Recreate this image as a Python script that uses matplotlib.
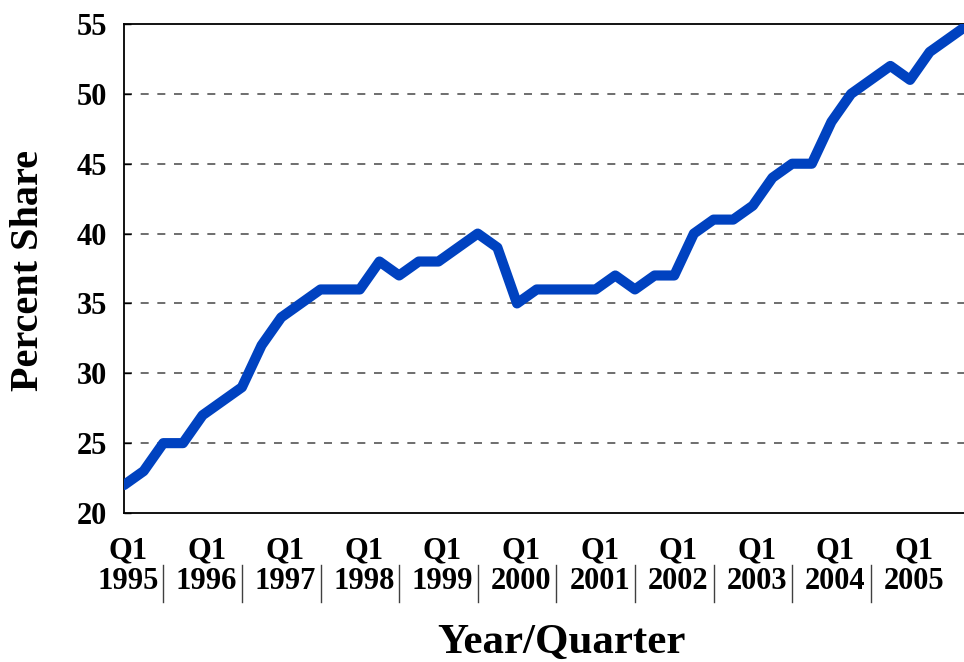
import matplotlib
matplotlib.use('Agg')
import matplotlib.pyplot as plt
import matplotlib.transforms as mtransforms


# percent share, one value per quarter, Q1 1995 onwards
share = [22, 23, 25, 25, 27, 28, 29, 32, 34, 35, 36, 36, 36, 38, 37, 38, 38, 39, 40, 39, 35, 36,
         36, 36, 36, 37, 36, 37, 37, 40, 41, 41, 42, 44, 45, 45, 48, 50, 51, 52, 51, 53, 54, 55]
years = [1995, 1996, 1997, 1998, 1999, 2000, 2001, 2002, 2003, 2004, 2005]
y_ticks = [20, 25, 30, 35, 40, 45, 50, 55]

plt.rcParams['font.family'] = ['Liberation Serif', 'DejaVu Serif']
plt.rcParams['font.weight'] = 'bold'

fig = plt.figure(figsize=(9.64, 6.62), dpi=100)
ax = fig.add_axes([124 / 964, 1 - 513 / 662, (969 - 124) / 964, (513 - 24) / 662])

quarters = list(range(len(share)))
ax.plot(quarters, share, color='#0042C0', linewidth=7.3,
        solid_capstyle='round', solid_joinstyle='round', zorder=3)

ax.set_xlim(0, len(share) - 1)
ax.set_ylim(20, 55)
ax.set_yticks(y_ticks)
ax.set_yticklabels([str(v) for v in y_ticks], fontsize=22, fontweight='bold')

# one label per year at Q1
label_pos = [4 * i for i in range(len(years))]
ax.set_xticks(label_pos)
ax.set_xticklabels(['Q1\n%d' % y for y in years], fontsize=22, fontweight='bold',
                   linespacing=1.05)
ax.tick_params(axis='x', length=0, pad=17)
ax.tick_params(axis='y', direction='in', length=5, width=1, pad=12)

# labels sit a few pixels right of the Q1 point
shift = mtransforms.ScaledTranslation(4 / 100, 0, fig.dpi_scale_trans)
for lbl in ax.get_xticklabels():
    lbl.set_transform(lbl.get_transform() + shift)

for v in y_ticks[1:-1]:
    ax.axhline(v, color='#555555', linewidth=1.2, linestyle=(0, (4.8, 5.2)), zorder=1)

for s in ax.spines.values():
    s.set_linewidth(1.3)
    s.set_color('black')

# separators between the year labels
trans = mtransforms.blended_transform_factory(ax.transData, ax.transAxes)
for i in range(len(years) - 1):
    xs = 4 * i + 2
    ax.plot([xs, xs], [-0.106, -0.182], color='#404040', linewidth=1,
            transform=trans, clip_on=False)

fig.text(29 / 964, 1 - 270 / 662, 'Percent Share', rotation=90, fontsize=29,
         fontweight='bold', ha='center', va='center')
fig.text(561 / 964, 1 - 643 / 662, 'Year/Quarter', fontsize=31,
         fontweight='bold', ha='center', va='center')

fig.savefig('out.png', dpi=100)
